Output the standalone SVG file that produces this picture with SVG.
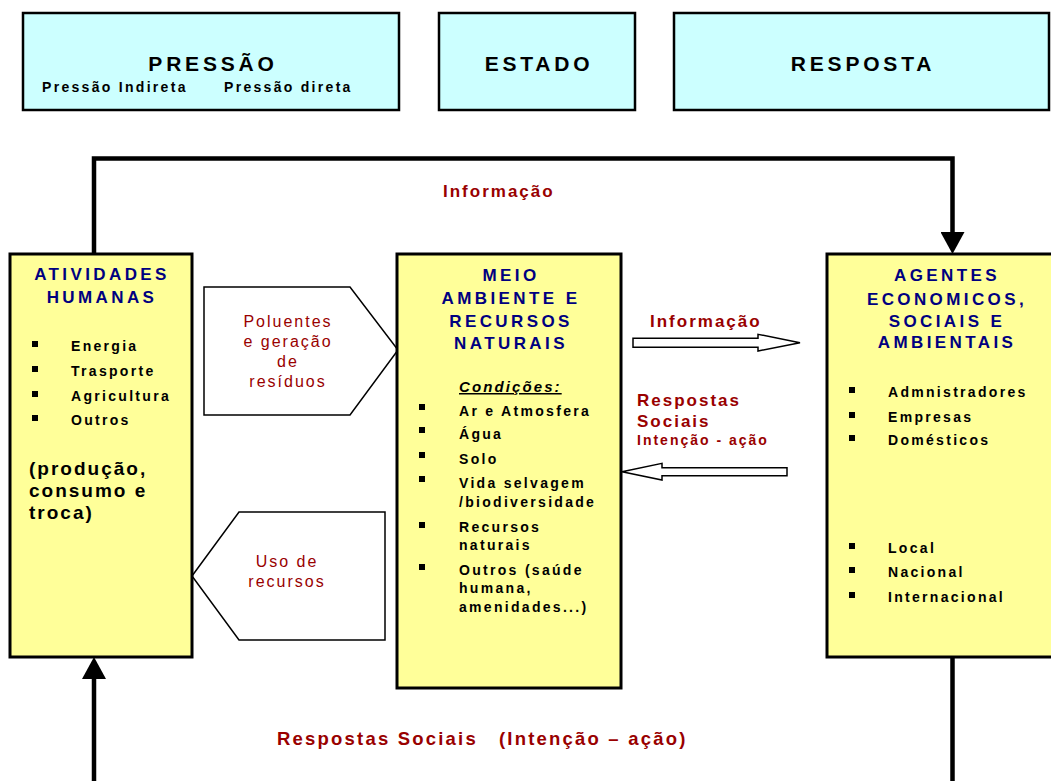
<svg xmlns="http://www.w3.org/2000/svg" width="1051" height="781" viewBox="0 0 1051 781">
<defs>
<style>
text{font-family:"Liberation Sans",Arial,sans-serif;font-weight:bold;}
.boxTop{fill:#CCFFFF;stroke:#000;stroke-width:2.5;}
.boxY{fill:#FFFF99;stroke:#000;stroke-width:3;}
.shape{fill:#fff;stroke:#000;stroke-width:1.5;}
.line{fill:none;stroke:#000;stroke-width:4.5;}
.tTop{font-size:21px;letter-spacing:3.8px;fill:#000;}
.sub{font-size:14px;letter-spacing:2.3px;fill:#000;}
.title{font-size:17px;letter-spacing:3.4px;fill:#000080;}
.item{font-size:14px;letter-spacing:2.3px;fill:#000;}
.big{font-size:19px;letter-spacing:2px;fill:#000;}
.cond{font-size:15px;letter-spacing:2.1px;font-style:italic;text-decoration:underline;fill:#000;}
.red{font-size:17px;letter-spacing:2px;fill:#990000;}
.redB{font-size:18.5px;letter-spacing:2.2px;fill:#990000;}
.redS{font-size:14px;letter-spacing:2px;fill:#990000;}
.redR{font-size:16px;letter-spacing:2px;font-weight:normal;fill:#990000;}
</style>
<marker id="ah" markerUnits="userSpaceOnUse" markerWidth="22" markerHeight="24" viewBox="0 0 22 24" refX="10" refY="12" orient="auto">
<path d="M0,0 L22,12 L0,24 Z" fill="#000"/>
</marker>
<rect id="bul" width="6" height="6"/>
</defs>

<g id="pressao">
<rect class="boxTop" x="23" y="13" width="376" height="97"/>
<text class="tTop" x="213" y="71" text-anchor="middle">PRESSÃO</text>
<text class="sub" x="42" y="92">Pressão Indireta</text>
<text class="sub" x="224" y="92">Pressão direta</text>
</g>
<g id="estado">
<rect class="boxTop" x="439" y="13" width="196" height="97"/>
<text class="tTop" x="539" y="71" text-anchor="middle">ESTADO</text>
</g>
<g id="resposta">
<rect class="boxTop" x="674" y="13" width="375" height="97"/>
<text class="tTop" x="863" y="71" text-anchor="middle">RESPOSTA</text>
</g>

<g id="connectors">
<path class="line" d="M94,254 V158.5 H952.5 V242" marker-end="url(#ah)"/>
<path class="line" d="M94,781 V669" marker-end="url(#ah)"/>
<path class="line" d="M952.5,657 V781"/>
<polygon class="shape" points="633,338.3 758,338.3 758,334.3 800,342.7 758,351 758,347.3 633,347.3"/>
<polygon class="shape" points="787,467.7 662,467.7 662,463.3 622,471.7 662,480 662,475.7 787,475.7"/>
<text class="red" x="443" y="197">Informação</text>
<text class="red" x="650" y="327">Informação</text>
<text class="red" x="637" y="406">Respostas</text>
<text class="red" x="637" y="427">Sociais</text>
<text class="redS" x="637" y="445">Intenção - ação</text>
<text class="redB" x="277" y="745">Respostas Sociais<tspan x="499">(Intenção – ação)</tspan></text>
</g>

<g id="poluentes">
<polygon class="shape" points="204,287 350,287 398,350 350,415 204,415"/>
<text class="redR" x="288" y="327" text-anchor="middle">Poluentes</text>
<text class="redR" x="288" y="347" text-anchor="middle">e geração</text>
<text class="redR" x="288" y="367" text-anchor="middle">de</text>
<text class="redR" x="288" y="387" text-anchor="middle">resíduos</text>
</g>

<g id="uso-recursos">
<polygon class="shape" points="192,576 239,512 385,512 385,640 239,640"/>
<text class="redR" x="287" y="567" text-anchor="middle">Uso de</text>
<text class="redR" x="287" y="587" text-anchor="middle">recursos</text>
</g>

<g id="atividades">
<rect class="boxY" x="10" y="254" width="182" height="403"/>
<text class="title" x="102" y="280" text-anchor="middle">ATIVIDADES</text>
<text class="title" x="102" y="303" text-anchor="middle">HUMANAS</text>
<use href="#bul" x="32" y="341"/>
<use href="#bul" x="32" y="366"/>
<use href="#bul" x="32" y="391"/>
<use href="#bul" x="32" y="415"/>
<text class="item" x="71" y="351">Energia</text>
<text class="item" x="71" y="376">Trasporte</text>
<text class="item" x="71" y="401">Agricultura</text>
<text class="item" x="71" y="425">Outros</text>
<text class="big" x="29" y="475">(produção,</text>
<text class="big" x="29" y="497">consumo e</text>
<text class="big" x="29" y="519">troca)</text>
</g>

<g id="meio-ambiente">
<rect class="boxY" x="397" y="254" width="224" height="434"/>
<text class="title" x="511" y="281" text-anchor="middle">MEIO</text>
<text class="title" x="511" y="304" text-anchor="middle">AMBIENTE E</text>
<text class="title" x="511" y="327" text-anchor="middle">RECURSOS</text>
<text class="title" x="511" y="349" text-anchor="middle">NATURAIS</text>
<text class="cond" x="459" y="392">Condições:</text>
<use href="#bul" x="419" y="404"/>
<use href="#bul" x="419" y="427"/>
<use href="#bul" x="419" y="452"/>
<use href="#bul" x="419" y="476"/>
<use href="#bul" x="419" y="522"/>
<use href="#bul" x="419" y="564"/>
<text class="item" x="459" y="416">Ar e Atmosfera</text>
<text class="item" x="459" y="439">Água</text>
<text class="item" x="459" y="464">Solo</text>
<text class="item" x="459" y="488">Vida selvagem</text>
<text class="item" x="459" y="507">/biodiversidade</text>
<text class="item" x="459" y="532">Recursos</text>
<text class="item" x="459" y="550">naturais</text>
<text class="item" x="459" y="575">Outros (saúde</text>
<text class="item" x="459" y="593">humana,</text>
<text class="item" x="459" y="612">amenidades...)</text>
</g>

<g id="agentes">
<rect class="boxY" x="827" y="254" width="236" height="403"/>
<text class="title" x="947" y="281" text-anchor="middle">AGENTES</text>
<text class="title" x="947" y="305" text-anchor="middle">ECONOMICOS,</text>
<text class="title" x="947" y="327" text-anchor="middle">SOCIAIS E</text>
<text class="title" x="947" y="348" text-anchor="middle">AMBIENTAIS</text>
<use href="#bul" x="849" y="387"/>
<use href="#bul" x="849" y="412"/>
<use href="#bul" x="849" y="435"/>
<use href="#bul" x="849" y="543"/>
<use href="#bul" x="849" y="567"/>
<use href="#bul" x="849" y="592"/>
<text class="item" x="888" y="397">Admnistradores</text>
<text class="item" x="888" y="422">Empresas</text>
<text class="item" x="888" y="445">Domésticos</text>
<text class="item" x="888" y="553">Local</text>
<text class="item" x="888" y="577">Nacional</text>
<text class="item" x="888" y="602">Internacional</text>
</g>
</svg>
